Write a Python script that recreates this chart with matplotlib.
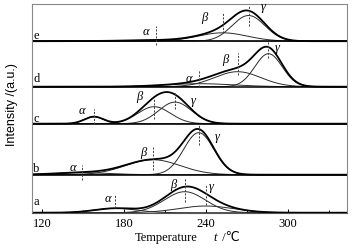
import matplotlib
matplotlib.use("Agg")
import matplotlib.pyplot as plt
import numpy as np

# deconvoluted peaks for samples a..e : centre (degC), width (degC), height (a.u.)
samples = ["a", "b", "c", "d", "e"]
centre_alpha = [173.6, 149.0, 158.0, 235.0, 203.0]
centre_beta = [224.4, 201.0, 202.0, 263.0, 252.0]
centre_gamma = [239.7, 234.6, 217.3, 285.6, 271.0]
width_alpha = [15, 20, 7, 25, 25]
width_beta = [15, 20, 12, 17, 18]
width_gamma = [20, 11, 12, 10, 12]
height_alpha = [4.4, 2.0, 7.0, 3.0, 1.0]
height_beta = [21.0, 15.0, 17.0, 15.0, 8.4]
height_gamma = [6.7, 42.0, 21.6, 33.0, 25.7]

# layout: vertical offset of each trace, dashed marker spans and greek label spots
offsets = [0, 38, 89, 126, 171.5]
dash_span = [
    [(4.4, 17.7), (11, 34.4), (7.7, 27.7)],
    [(-5.7, 9.3), (5, 27.6), (29.3, 49.3)],
    [(0, 14.3), (4.3, 26), (14.3, 32)],
    [(0, 16.6), (11.6, 33.3), (28.3, 45)],
    [(-3.3, 15), (8.7, 29.7), (15, 35)],
]
greek_pos = [
    [(168.3, 13.4), (215.8, 27.7), (243.8, 26.0)],
    [(142.9, 6.4), (194.1, 21.4), (247.8, 38.0)],
    [(149.0, 12.8), (191.2, 26.8), (230.7, 22.8)],
    [(227.5, 8.0), (253.9, 27.0), (292.1, 38.7)],
    [(195.9, 8.9), (238.5, 22.9), (281.9, 33.9)],
]
letter_y = [10.4, 5.7, 4.5, 7.7, 5.5]
greek = ["α", "β", "γ"]

serif = ["Liberation Serif", "DejaVu Serif"]
plt.rcParams["font.family"] = serif

fig = plt.figure(figsize=(3.52, 2.50), dpi=100)
ax = fig.add_axes([32 / 352, 1 - 212.7 / 250, 315 / 352, 208.7 / 250])

xmin, xmax = 112.7, 343
T = np.linspace(xmin, xmax, 800)


def peak(c, w, h):
    return h * np.exp(-0.5 * ((T - c) / w) ** 2)


for i, s in enumerate(samples):
    off = offsets[i]
    comps = [
        peak(centre_alpha[i], width_alpha[i], height_alpha[i]),
        peak(centre_beta[i], width_beta[i], height_beta[i]),
        peak(centre_gamma[i], width_gamma[i], height_gamma[i]),
    ]
    total = comps[0] + comps[1] + comps[2]
    for comp in comps:
        ax.plot(T, off + comp, color="#2a2a2a", lw=0.7)
    ax.plot(T, off + total, color="black", lw=1.3)
    if i > 0:
        ax.axhline(off, color="black", lw=1.1)
    centres = [centre_alpha[i], centre_beta[i], centre_gamma[i]]
    for j in range(3):
        lo, hi = dash_span[i][j]
        ax.vlines(centres[j], off + lo, off + hi, colors="#444444",
                  linestyles=(0, (2.2, 1.4)), lw=0.7)
        gx, gy = greek_pos[i][j]
        ax.text(gx, off + gy, greek[j], fontsize=9, style="italic",
                ha="center", va="center")
    ax.text(113.6, off + letter_y[i], s, fontsize=9, ha="left", va="center")

ax.set_xlim(xmin, xmax)
ax.set_ylim(0, 208.7)
ax.set_yticks([])
ax.set_xticks([120, 180, 240, 300])
ax.set_xticks([150, 210, 270, 330], minor=True)
ax.tick_params(axis="x", which="both", direction="in", length=3, width=0.7,
               labelsize=9, pad=4, top=False)
ax.tick_params(axis="x", which="minor", length=2.5)
for sp in ax.spines.values():
    sp.set_color("#888888")
    sp.set_linewidth(0.8)
ax.spines["bottom"].set_color("#555555")

fig.text(12 / 352, 1 - 105 / 250, "Intensity /(a.u.)", rotation=90,
         ha="center", va="center", fontsize=9,
         family=["Liberation Sans", "DejaVu Sans"])
fig.text(166 / 352, 1 - 238 / 250, "Temperature", ha="center", va="center",
         fontsize=9)
fig.text(213 / 352, 1 - 238 / 250, "t", ha="left", va="center", fontsize=9,
         style="italic")
fig.text(219 / 352, 1 - 238 / 250, " /℃", ha="left", va="center", fontsize=9,
         family=["Liberation Serif", "DejaVu Sans"])

fig.savefig("out.png", dpi=100)
